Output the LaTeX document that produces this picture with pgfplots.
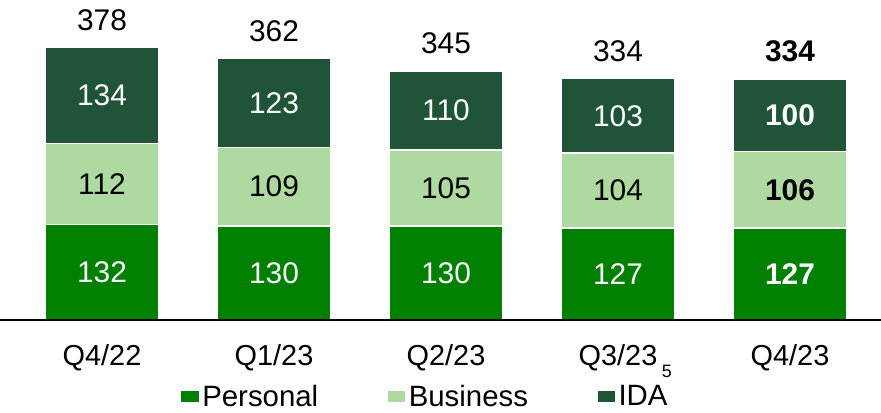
\documentclass[border=0pt]{standalone}
\usepackage{pgfplots}
\pgfplotsset{compat=1.18}
\usepackage{fontspec}
\setmainfont{Liberation Sans}

\definecolor{personal}{RGB}{0,128,0}
\definecolor{business}{RGB}{174,217,160}
\definecolor{ida}{RGB}{31,84,56}

\pgfplotsset{
  frame/.style={
    x=172bp, y=0.722bp,
    xmin=-0.593, xmax=4.529,
    ymin=0, ymax=443,
    bar width=0.657,
    clip=false,
    /pgf/number format/assume math mode=true,
    visualization depends on={rawx \as \rawx},
  },
}

\begin{document}
\begin{tikzpicture}
\begin{axis}[
    frame,
    ybar stacked,
    axis x line=bottom,
    hide y axis,
    axis line style={-, line width=1.6bp, black},
    axis on top,
    xtick=data,
    xticklabels={Q4/22,Q1/23,Q2/23,Q3/23,Q4/23},
    major tick length=0pt,
    xticklabel style={font=\fontsize{29}{33}\selectfont, yshift=-21bp},
    every axis plot/.append style={draw=white, line width=1.5bp},
    point meta=rawy,
    nodes near coords={\ifdim\rawx pt>3.5pt \bfseries\fi\pgfmathprintnumber{\pgfplotspointmeta}},
    every node near coord/.append style={anchor=center, font=\fontsize{30}{34}\selectfont},
    legend columns=3,
    legend image code/.code={
        \path[#1,draw=none] (0bp,-6.5bp) rectangle (13bp,6.5bp);
        \path (0bp,-6.5bp) rectangle (19bp,6.5bp);},
    legend style={draw=none, fill=none, at={(0.482,-0.240)}, anchor=center,
        font=\fontsize{29.5}{33}\selectfont, inner sep=0pt,
        nodes={inner ysep=1bp},
        /tikz/every even column/.append style={column sep=66bp}},
]
\coordinate (bl) at (rel axis cs:0,0);
\coordinate (tr) at (rel axis cs:1,1);

% Personal
\addplot[fill=personal, every node near coord/.append style={text=white}]
coordinates {(0,132) (1,130) (2,130) (3,127) (4,127)};
% Business
\addplot[fill=business, every node near coord/.append style={text=black}]
coordinates {(0,112) (1,109) (2,105) (3,104) (4,106)};
% IDA
\addplot[fill=ida, every node near coord/.append style={text=white}]
coordinates {(0,134) (1,123) (2,110) (3,103) (4,100)};

\legend{Personal,Business,IDA}

\node[font=\fontsize{18}{20}\selectfont] at (axis description cs:0.757,-0.1625) {5};
\end{axis}

% totals above the bars
\begin{axis}[
    frame,
    ybar,
    hide axis,
    nodes near coords={\ifdim\rawx pt>3.5pt \bfseries\fi\pgfmathprintnumber{\pgfplotspointmeta}},
    every node near coord/.append style={anchor=south, yshift=13bp, text=black,
        font=\fontsize{30}{34}\selectfont},
]
\addplot[draw=none, fill=none]
coordinates {(0,378) (1,362) (2,345) (3,334) (4,334)};
\end{axis}

\pgfresetboundingbox
\path[use as bounding box] (bl) ++(0,-93bp) rectangle (tr);
\end{tikzpicture}
\end{document}
